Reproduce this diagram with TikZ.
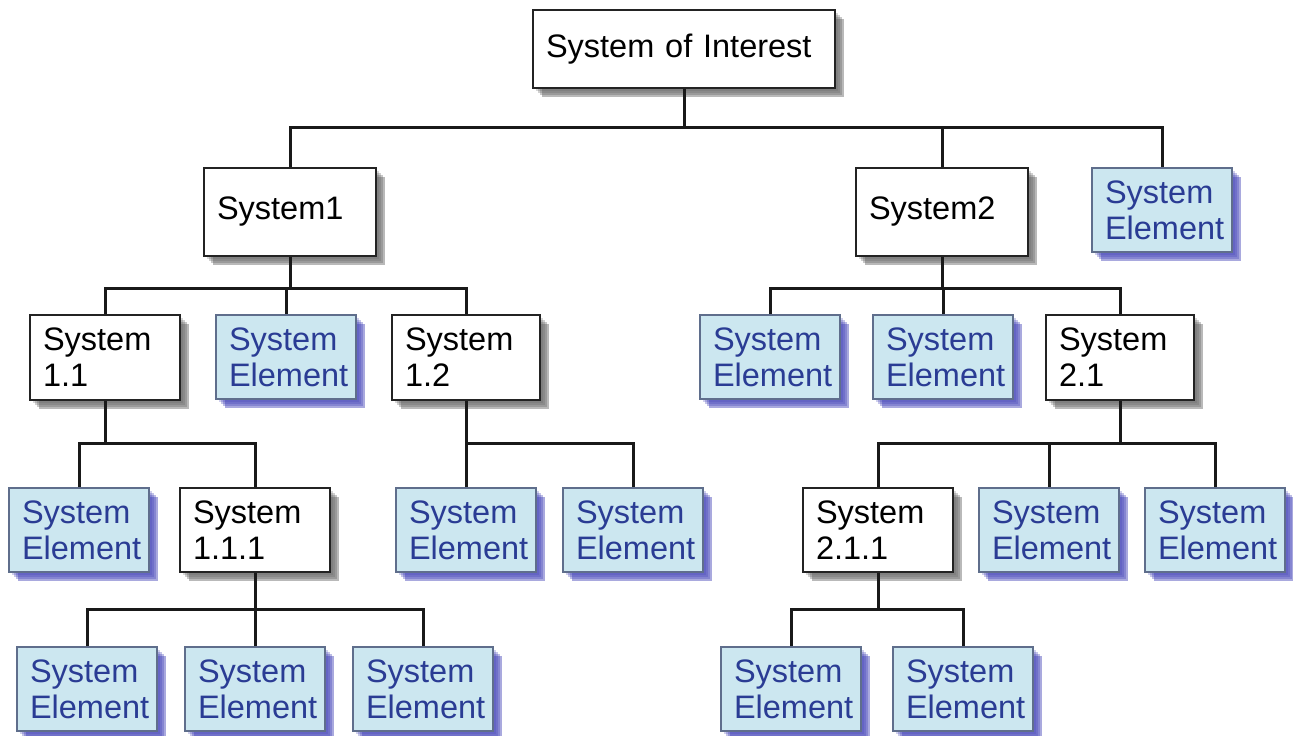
\documentclass[tikz,border=0pt]{standalone}
\usepackage{fontspec}
\setmainfont{Liberation Sans}
\usetikzlibrary{shadows}
\definecolor{sefill}{RGB}{204,231,240}
\definecolor{setext}{RGB}{42,60,148}
\definecolor{seborder}{RGB}{95,110,140}
\definecolor{seshadow}{RGB}{66,66,184}
\definecolor{wshadow}{RGB}{100,100,100}
\definecolor{wborder}{RGB}{35,35,35}
\tikzset{
  base/.style={rectangle, inner xsep=13pt, inner ysep=0pt, align=left,
    font=\fontsize{32.5}{36}\selectfont},
  softshadow/.style={
    general shadow={fill=#1, opacity=0.25, shadow xshift=3pt, shadow yshift=-3pt},
    general shadow={fill=#1, opacity=0.30, shadow xshift=5pt, shadow yshift=-5pt},
    general shadow={fill=#1, opacity=0.35, shadow xshift=7pt, shadow yshift=-7pt},
    general shadow={fill=#1, opacity=0.45, shadow xshift=9pt, shadow yshift=-9pt}},
  wbox/.style={base, draw=wborder, line width=2.2pt, fill=white, text=black, softshadow=wshadow},
  sebox/.style={base, draw=seborder, line width=1.8pt, fill=sefill, text=setext,
    softshadow=seshadow, minimum height=84pt, text width=114pt},
  conn/.style={draw=black!90, line width=3pt},
}
\begin{document}
\begin{tikzpicture}[x=1pt,y=-1pt]
\fill[white] (0,0) rectangle (1293,736);
\useasboundingbox (0,0) rectangle (1293,736);
% level 0
\node[wbox, text width=276pt, minimum height=78pt] (root) at (684,49) {System of Interest};
% level 1
\node[wbox, text width=146pt, minimum height=88pt] (sys1) at (290,212) {System1};
\node[wbox, text width=146pt, minimum height=88pt] (sys2) at (942,212) {System2};
\node[sebox] (seA) at (1162,210) {System\\Element};
% level 2
\node[wbox, text width=124pt, minimum height=85pt] (s11) at (105,357.5) {System\\1.1};
\node[sebox] (seB) at (286,357) {System\\Element};
\node[wbox, text width=122pt, minimum height=85pt] (s12) at (466,357.5) {System\\1.2};
\node[sebox] (seC) at (770,357) {System\\Element};
\node[sebox] (seD) at (943,357) {System\\Element};
\node[wbox, text width=122pt, minimum height=85pt] (s21) at (1120,357.5) {System\\2.1};
% level 3
\node[sebox] (seE) at (79,530) {System\\Element};
\node[wbox, text width=124pt, minimum height=84pt] (s111) at (255,530) {System\\1.1.1};
\node[sebox] (seF) at (466,530) {System\\Element};
\node[sebox] (seG) at (633,530) {System\\Element};
\node[wbox, text width=124pt, minimum height=84pt] (s211) at (878,530) {System\\2.1.1};
\node[sebox] (seH) at (1049,530) {System\\Element};
\node[sebox] (seI) at (1215,530) {System\\Element};
% level 4
\node[sebox] (seJ) at (87,689) {System\\Element};
\node[sebox] (seK) at (255,689) {System\\Element};
\node[sebox] (seL) at (423,689) {System\\Element};
\node[sebox] (seM) at (791,689) {System\\Element};
\node[sebox] (seN) at (963,689) {System\\Element};
% bars
\coordinate (b0) at (684,127);
\coordinate (b1) at (290,288);
\coordinate (b2) at (942,288);
\coordinate (b11) at (105,443);
\coordinate (b12) at (466,443);
\coordinate (b21) at (1120,443);
\coordinate (b111) at (255,609);
\coordinate (b211) at (878,609);
% connectors
\draw[conn] (root.south) -- (b0);
\draw[conn] (sys1.north) |- (b0);
\draw[conn] (sys2.north) |- (b0);
\draw[conn] (seA.north) |- (b0);
\draw[conn] (sys1.south) -- (b1);
\draw[conn] (s11.north) |- (b1);
\draw[conn] (seB.north) |- (b1);
\draw[conn] (s12.north) |- (b1);
\draw[conn] (sys2.south) -- (b2);
\draw[conn] (seC.north) |- (b2);
\draw[conn] (seD.north) |- (b2);
\draw[conn] (s21.north) |- (b2);
\draw[conn] (s11.south) -- (b11);
\draw[conn] (seE.north) |- (b11);
\draw[conn] (s111.north) |- (b11);
\draw[conn] (s12.south) -- (b12);
\draw[conn] (seF.north) |- (b12);
\draw[conn] (seG.north) |- (b12);
\draw[conn] (s21.south) -- (b21);
\draw[conn] (s211.north) |- (b21);
\draw[conn] (seH.north) |- (b21);
\draw[conn] (seI.north) |- (b21);
\draw[conn] (s111.south) -- (b111);
\draw[conn] (seJ.north) |- (b111);
\draw[conn] (seK.north) |- (b111);
\draw[conn] (seL.north) |- (b111);
\draw[conn] (s211.south) -- (b211);
\draw[conn] (seM.north) |- (b211);
\draw[conn] (seN.north) |- (b211);
\end{tikzpicture}
\end{document}
